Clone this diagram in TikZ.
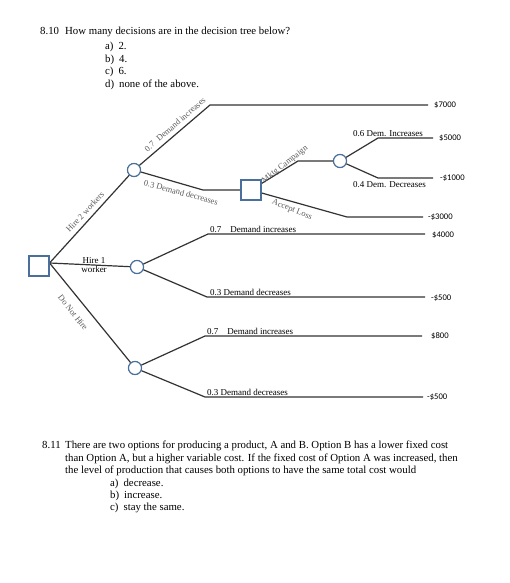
\documentclass[tikz,border=0pt]{standalone}
\usepackage{fontspec}
\setmainfont{Liberation Serif}
\newfontfamily\valfont{Carlito}
\definecolor{shapeblue}{HTML}{4A6F9C}
\definecolor{linegray}{HTML}{333333}
\definecolor{labelgray}{HTML}{5A5A5A}
\tikzset{
  dnode/.style={draw=shapeblue, fill=white, line width=1.1pt, minimum size=20pt, inner sep=0pt},
  cnode/.style={circle, draw=shapeblue, fill=white, line width=1.1pt, minimum size=13pt, inner sep=0pt},
  branch/.style={draw=linegray, line width=1.2pt},
  glabel/.style={text=labelgray, font=\fontsize{8.5}{8.5}\selectfont, inner sep=0pt},
  hlabel/.style={font=\fontsize{9}{9}\selectfont, inner sep=0pt, anchor=base west},
  val/.style={font=\valfont\fontsize{8.6}{9}\selectfont, anchor=west, inner sep=0pt},
  qtext/.style={font=\fontsize{10.8}{12}\selectfont, anchor=base west, inner sep=0pt}
}
\begin{document}
\begin{tikzpicture}[x=1pt,y=-1pt]
\useasboundingbox[fill=white] (0,0) rectangle (509,583);

% Question 8.10
\node[qtext] (q1n) at (40,35) {8.10};
\node[qtext] (q1t) at (65,35) {How many decisions are in the decision tree below?};
\node[qtext] (q1a) at (105,50) {a)\hspace{5pt}2.};
\node[qtext] (q1b) at (105,62.5) {b)\hspace{5pt}4.};
\node[qtext] (q1c) at (105,75) {c)\hspace{5pt}6.};
\node[qtext] (q1d) at (105,87.5) {d)\hspace{5pt}none of the above.};

% Coordinates for bends and ends
\coordinate (b1) at (210,105);  \coordinate (e1) at (428,105);
\coordinate (b2) at (203,190);
\coordinate (b3) at (298,161);
\coordinate (b4) at (347,217);  \coordinate (e4) at (423,217);
\coordinate (b5) at (378,138);  \coordinate (e5) at (433,138);
\coordinate (b6) at (378,178);  \coordinate (e6) at (433,178);
\coordinate (b7) at (208,234);  \coordinate (e7) at (425,234);
\coordinate (b8) at (207,297);  \coordinate (e8) at (425,297);
\coordinate (b9) at (205,336);  \coordinate (e9) at (422,336);
\coordinate (b10) at (205,397); \coordinate (e10) at (423,397);

% Nodes
\node[dnode] (sq1) at (39,266) {};
\node[cnode] (c1) at (134,170) {};
\node[cnode] (c2) at (137,267) {};
\node[cnode] (c3) at (135,368) {};
\node[dnode] (sq2) at (251,190) {};
\node[cnode] (c4) at (340,161) {};

% Branches
\draw[branch] ([yshift=3pt]sq1.east) -- (c1);
\draw[branch] ([yshift=3pt]sq1.east) -- (c2);
\draw[branch] ([yshift=3pt]sq1.east) -- (c3);
\draw[branch] (c1) -- (b1) -- (e1);
\draw[branch] (c1) -- (b2) -- (sq2);
\draw[branch] (sq2) -- (b3) -- (c4);
\draw[branch] (sq2) -- (b4) -- (e4);
\draw[branch] (c4) -- (b5) -- (e5);
\draw[branch] (c4) -- (b6) -- (e6);
\draw[branch] (c2) -- (b7) -- (e7);
\draw[branch] (c2) -- (b8) -- (e8);
\draw[branch] (c3) -- (b9) -- (e9);
\draw[branch] (c3) -- (b10) -- (e10);

% shapes drawn over the line ends
\node[dnode] at (sq1) {};
\node[cnode] at (c1) {};
\node[cnode] at (c2) {};
\node[cnode] at (c3) {};
\node[dnode] at (sq2) {};
\node[cnode] at (c4) {};

% Grey rotated labels
\node[glabel, rotate=47] (lh2) at (85,212) {Hire 2 workers};
\node[glabel, rotate=-52] (ldn) at (73,312.5) {Do Not Hire};
\node[glabel, rotate=41] (l07) at (175,124.5) {0.7\hspace{5pt}Demand increases};
\node[glabel, rotate=-15] (l03) at (181,192.5) {0.3 Demand decreases};
\node[glabel, rotate=38] (lmk) at (285,164.5) {Mktg Campaign};
\node[glabel, rotate=-22] (lal) at (292,210) {Accept Loss};

% Hire 1 worker
\node[font=\fontsize{9}{9.5}\selectfont, align=center, inner sep=0pt] (lh1) at (94,265) {Hire 1\\worker};

% Horizontal labels
\node[hlabel] (l6) at (353,136) {0.6 Dem. Increases};
\node[hlabel] (l4) at (353,187) {0.4 Dem. Decreases};
\node[hlabel] (l7a) at (210,232.5) {0.7\hspace{9pt}Demand increases};
\node[hlabel] (l3a) at (210,295.5) {0.3 Demand decreases};
\node[hlabel] (l7b) at (207,334.5) {0.7\hspace{9pt}Demand increases};
\node[hlabel] (l3b) at (207,395.5) {0.3 Demand decreases};

% Values
\node[val] (v1) at (434,105) {\$7000};
\node[val] (v2) at (439,138) {\$5000};
\node[val] (v3) at (440,178) {-\$1000};
\node[val] (v4) at (428,217) {-\$3000};
\node[val] (v5) at (432,235) {\$4000};
\node[val] (v6) at (431,298) {-\$500};
\node[val] (v7) at (431,336) {\$800};
\node[val] (v8) at (427,397) {-\$500};

% Question 8.11
\node[qtext] (q2n) at (42,448) {8.11};
\node[qtext] (q2t1) at (65,448) {There are two options for producing a product, A and B. Option B has a lower fixed cost};
\node[qtext] (q2t2) at (65,461) {than Option A, but a higher variable cost. If the fixed cost of Option A was increased, then};
\node[qtext] (q2t3) at (65,473) {the level of production that causes both options to have the same total cost would};
\node[qtext] (q2a) at (110,486) {a)\hspace{5pt}decrease.};
\node[qtext] (q2b) at (110,498) {b)\hspace{5pt}increase.};
\node[qtext] (q2c) at (110,510) {c)\hspace{5pt}stay the same.};
\end{tikzpicture}
\end{document}
